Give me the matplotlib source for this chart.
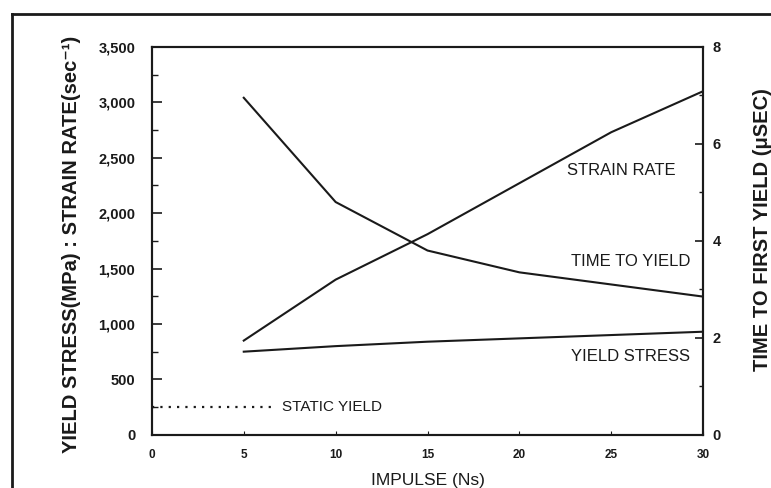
import matplotlib
matplotlib.use("Agg")
import matplotlib.pyplot as plt
from matplotlib.lines import Line2D

plt.rcParams['font.family'] = ['Liberation Sans', 'DejaVu Sans']

# data
impulse = [5, 10, 15, 20, 25, 30]
strain_rate = [850, 1400, 1810, 2270, 2730, 3100]      # sec^-1, left axis
yield_stress = [750, 800, 840, 870, 900, 930]          # MPa, left axis
time_to_yield = [6.95, 4.8, 3.8, 3.35, 3.1, 2.85]      # usec, right axis
static_x = [0, 6.5]
static_y = [250, 250]

ink = "#1a1a1a"

fig = plt.figure(figsize=(7.71, 4.88), dpi=100)
ax = fig.add_axes([0.197, 0.109, 0.715, 0.795])
ax2 = ax.twinx()

ax.plot(impulse, strain_rate, color=ink, lw=1.5)
ax.plot(impulse, yield_stress, color=ink, lw=1.5)
ax.plot(static_x, static_y, color=ink, lw=1.6, ls=(0, (1, 2.75)))
ax2.plot(impulse, time_to_yield, color=ink, lw=1.5)

ax.set_xlim(0, 30)
ax.set_ylim(0, 3500)
ax2.set_ylim(0, 8)

ax.set_xticks([0, 5, 10, 15, 20, 25, 30])
ax.set_yticks(range(0, 3501, 500))
ax.set_yticklabels(["0", "500", "1,000", "1,500", "2,000", "2,500", "3,000", "3,500"])
ax.set_yticks(range(250, 3500, 500), minor=True)
ax2.set_yticks([0, 2, 4, 6, 8])
ax2.set_yticks([1, 3, 5, 7], minor=True)

ax.tick_params(axis='y', which='major', direction='in', length=7, width=1.2,
               labelsize=10.5, pad=12, colors=ink)
ax.tick_params(axis='y', which='minor', direction='in', length=4, width=1.0, colors=ink)
ax.tick_params(axis='x', which='major', direction='in', length=3, width=0.8,
               labelsize=8.5, pad=10, colors=ink)
ax2.tick_params(axis='y', which='major', direction='in', length=6, width=1.2,
                labelsize=10.5, pad=7, colors=ink)
ax2.tick_params(axis='y', which='minor', direction='in', length=3, width=1.0, colors=ink)
for lab in ax.get_xticklabels() + ax.get_yticklabels() + ax2.get_yticklabels():
    lab.set_fontweight('bold')

for a in (ax, ax2):
    for s in a.spines.values():
        s.set_linewidth(1.5)
        s.set_color(ink)

ax.set_xlabel("IMPULSE (Ns)", fontsize=12.5, color=ink, labelpad=9)
ax.set_ylabel("YIELD STRESS(MPa) : STRAIN RATE(sec\u207b\u00b9)", fontsize=14.5,
              fontweight='bold', color=ink)
ax.yaxis.set_label_coords(-0.128, 0.49)
ax2.set_ylabel("TIME TO FIRST YIELD (\u03bcSEC)", fontsize=14.5, fontweight='bold',
               color=ink)
ax2.yaxis.set_label_coords(1.09, 0.528)

ax.text(22.6, 2380, "STRAIN RATE", fontsize=12, color=ink, va='center')
ax.text(22.8, 1565, "TIME TO YIELD", fontsize=12, color=ink, va='center')
ax.text(22.8, 705, "YIELD STRESS", fontsize=12, color=ink, va='center')
ax.text(7.1, 250, "STATIC YIELD", fontsize=11, color=ink, va='center')

# scanned page frame (top and left edges)
fig.add_artist(Line2D([0.016, 1.0], [0.972, 0.972], transform=fig.transFigure,
                      color=ink, lw=2))
fig.add_artist(Line2D([0.016, 0.016], [0.0, 0.972], transform=fig.transFigure,
                      color=ink, lw=2))

fig.savefig("out.png", dpi=100)
